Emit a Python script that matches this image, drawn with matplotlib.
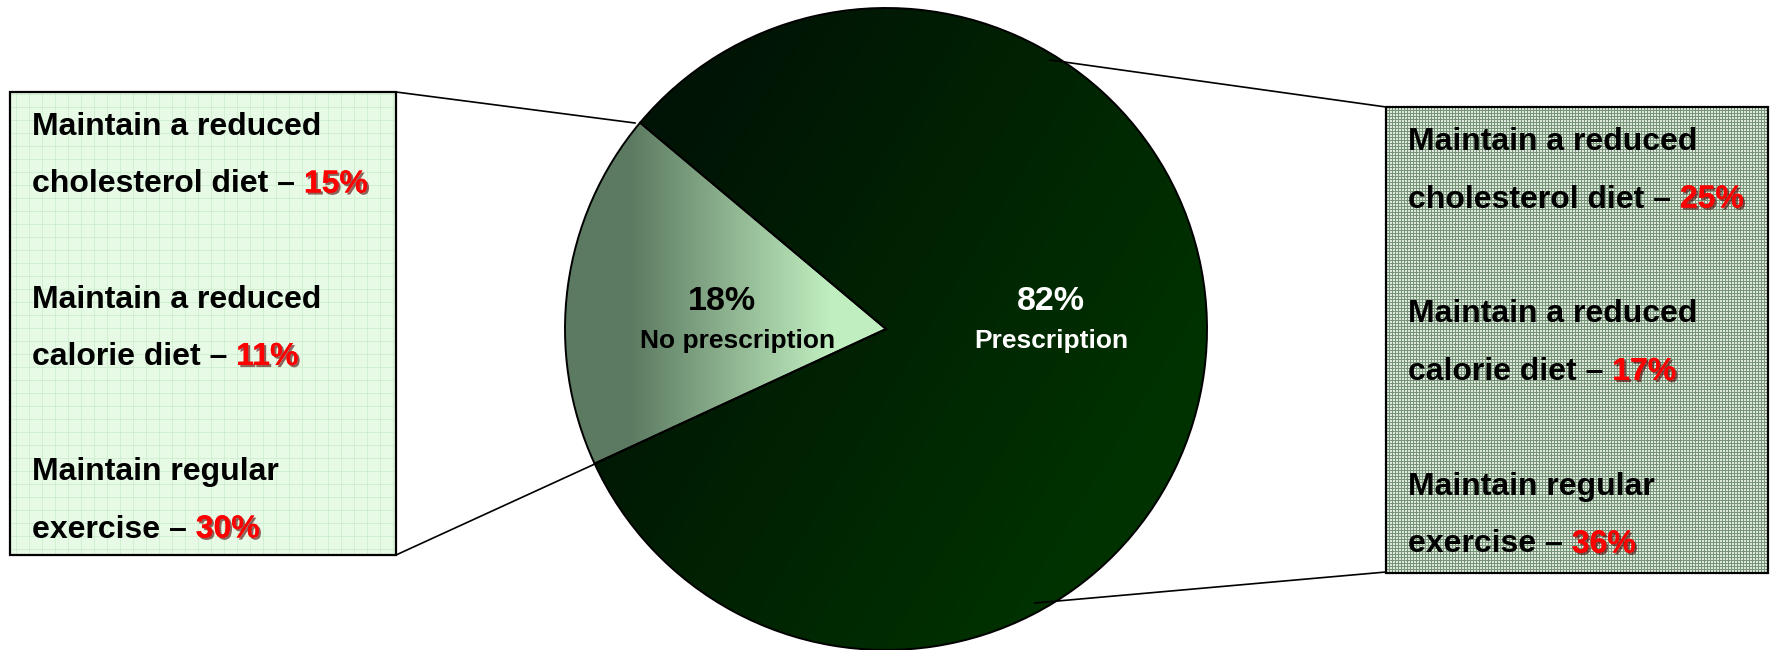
import numpy as np
import matplotlib.pyplot as plt
from matplotlib.patches import Rectangle
from matplotlib import patheffects as pe

plt.rcParams['font.family'] = ['Liberation Sans', 'DejaVu Sans']

# data
groups = ["No prescription", "Prescription"]
shares = [18, 82]
line1 = ["Maintain a reduced", "Maintain a reduced", "Maintain regular"]
line2 = ["cholesterol diet", "calorie diet", "exercise"]
no_rx_pct = [15, 11, 30]
rx_pct = [25, 17, 36]

W, H = 1770, 650
fig = plt.figure(figsize=(W / 100, H / 100), dpi=100)
ax = fig.add_axes([0, 0, 1, 1])

# pie, in pixel coordinates (y measured from bottom)
cx, cy, r = 886, H - 329, 321
wedges, _ = ax.pie(shares, startangle=140, center=(cx, cy), radius=r, frame=True,
                   wedgeprops=dict(facecolor='none', edgecolor='black', linewidth=1.4, zorder=4))


def fill_gradient(wedge, c0, c1, x0, x1, diag=0.0):
    n = 400
    xs = np.linspace(cx - r, cx + r, n)
    ys = np.linspace(cy - r, cy + r, n)
    X, Y = np.meshgrid(xs, ys)
    t = np.clip(((X - x0) + diag * (cy - Y)) / (x1 - x0), 0, 1)[..., None]
    c0 = np.array(c0) / 255.0
    c1 = np.array(c1) / 255.0
    img = c0 + t * (c1 - c0)
    im = ax.imshow(img, extent=[cx - r, cx + r, cy - r, cy + r], origin='lower',
                   interpolation='bilinear', zorder=2)
    im.set_clip_path(wedge)


fill_gradient(wedges[0], (92, 122, 97), (192, 238, 192), 630, 830)
fill_gradient(wedges[1], (0, 20, 5), (0, 50, 0), cx - r, cx + r, diag=0.6)

# slice labels
for i, w in enumerate(wedges):
    mid = np.deg2rad((w.theta1 + w.theta2) / 2)
    lx = cx + 0.515 * r * np.cos(mid) + (15 if i == 0 else 1)
    col = 'black' if i == 0 else 'white'
    ax.text(lx - (15 if i == 0 else 0), H - 310, f"{shares[i]}%", ha='center', va='baseline',
            fontsize=24.5, weight='bold', color=col, zorder=5)
    ax.text(lx, H - 348, groups[i], ha='center', va='baseline',
            fontsize=19, weight='bold', color=col, zorder=5)

# left box (no prescription)
lb = (10, H - 555, 386, 463)
ax.add_patch(Rectangle(lb[:2], lb[2], lb[3], facecolor='#e6fae6', edgecolor='none', zorder=1))
for gx in np.arange(lb[0] + 6, lb[0] + lb[2], 13):
    ax.plot([gx, gx], [lb[1], lb[1] + lb[3]], color='#cdeecd', lw=0.6, zorder=1.1)
for gy in np.arange(lb[1] + 6, lb[1] + lb[3], 13):
    ax.plot([lb[0], lb[0] + lb[2]], [gy, gy], color='#cdeecd', lw=0.6, zorder=1.1)
ax.add_patch(Rectangle(lb[:2], lb[2], lb[3], facecolor='none', edgecolor='black', lw=1.6, zorder=3))

# right box (prescription), fine dotted pattern
rb = (1386, H - 573, 382, 466)
ii, jj = np.mgrid[0:rb[3], 0:rb[2]]
dark = (ii % 3 == 0) | (jj % 3 == 0)
pat = np.where(dark[..., None], np.array([118, 148, 118]) / 255, np.array([222, 232, 222]) / 255)
ax.imshow(pat, extent=[rb[0], rb[0] + rb[2], rb[1], rb[1] + rb[3]], origin='upper',
          interpolation='nearest', zorder=1)
ax.add_patch(Rectangle(rb[:2], rb[2], rb[3], facecolor='none', edgecolor='black', lw=1.6, zorder=3))

# connector lines
ax.plot([396, 635], [H - 92, H - 123], color='black', lw=1.2, zorder=5)
ax.plot([396, 597], [H - 555, H - 463], color='black', lw=1.2, zorder=5)
ax.plot([1050, 1386], [H - 60, H - 107], color='black', lw=1.2, zorder=5)
ax.plot([1035, 1386], [H - 603, H - 572], color='black', lw=1.2, zorder=5)

shadow = [pe.withSimplePatchShadow(offset=(1.5, -1.5), shadow_rgbFace='#500000', alpha=0.6),
          pe.Normal()]


def box_text(x, base, step, pcts):
    for i, p in enumerate(pcts):
        y1 = H - (base + step * i)
        y2 = y1 - 57.5
        ax.text(x, y1, line1[i], fontsize=23, weight='bold', va='baseline', zorder=6)
        t = ax.text(x, y2, line2[i] + " \u2013 ", fontsize=23, weight='bold',
                    va='baseline', zorder=6)
        ax.annotate(f"{p}%", xy=(1, 0), xycoords=t, va='bottom', ha='left',
                    fontsize=23, weight='bold', color='#ff0000', zorder=6,
                    path_effects=shadow)


box_text(32, 135, 172.5, no_rx_pct)
box_text(1408, 150, 172.5, rx_pct)

ax.set_xlim(0, W)
ax.set_ylim(0, H)
ax.set_aspect('auto')
ax.axis('off')
fig.savefig('out.png', dpi=100)
